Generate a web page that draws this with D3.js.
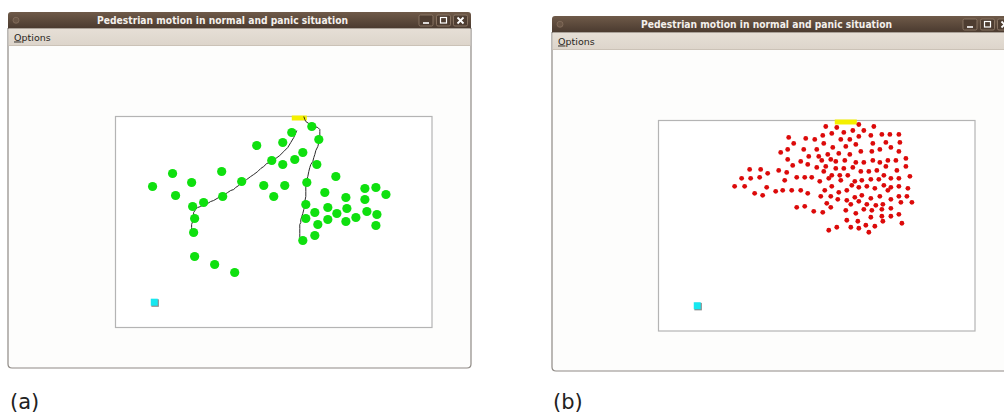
<!DOCTYPE html>
<html>
<head>
<meta charset="utf-8">
<script src="https://cdn.jsdelivr.net/npm/d3@7"></script>
<style>
html,body{margin:0;padding:0;background:#fff;}
svg{display:block;}
</style>
</head>
<body>
<svg id="chart" width="1004" height="417"></svg>
<script>
// ---- DATA (room coordinates, room is 316 x 211 units) ----
const roomSize = [316, 211];
const windowTitle = "Pedestrian motion in normal and panic situation";
const menuLabel = "Options";
const panelLabels = ["(a)", "(b)"];

// panel (a): normal situation, pedestrians
const normalPedestrians = [
  [37,70],[57,57],[76,66],[60,79],[106,55],[126,65],[141,29],[148,69],[158,80],
  [167,26],[176,16],[187,36],[179,43],[167,48],[156,44],[169,69],[196,10],[203,23],
  [201,48],[220,60],[191,66],[209,76],[77,90],[88,86],[107,80],[79,102],[78,116],
  [79,140],[99,148],[119,156],[190,88],[190,102],[187,124],[199,119],[202,108],
  [199,96],[212,103],[212,91],[221,97],[230,81],[231,92],[230,105],[240,101],
  [249,72],[249,83],[251,95],[260,71],[270,78],[261,98],[260,109]
];
// panel (a): two traced trajectories
const trajectoryA = [
  [181,14],[178,21],[175,26],[172,31],[168,35],[164,39],[160,42],[158,43],[154,46],
  [151,47],[148,50],[145,52],[142,55],[138,58],[135,60],[131,63],[128,66],[125,67],
  [123,69],[120,71],[118,73],[115,74],[112,76],[109,78],[107,80],[103,81],[98,84],
  [95,85],[92,87],[88,88],[85,90],[82,91],[80,93],[78,96],[78,98],[77,101],[77,105],
  [76,108],[76,111],[76,114],[76,117]
];
const trajectoryB = [
  [188,0],[189,3],[190,5],[193,7],[195,8],[198,10],[202,11],[204,13],[204,15],
  [204,19],[204,23],[203,26],[202,30],[200,34],[199,38],[198,41],[197,45],[195,48],
  [194,51],[193,55],[192,60],[191,63],[191,66],[190,70],[190,75],[190,80],[189,85],
  [189,89],[188,93],[187,97],[186,100],[185,103],[185,106],[184,108],[184,112],
  [184,117],[184,121]
];
// panel (b): panic situation, pedestrians
const panicPedestrians = [
  [167,6],[178,7],[200,4],[215,6],
  [164,15],[173,13],[185,12],[194,10],[205,10],[212,15],[223,14],[231,14],[240,14],
  [130,17],[147,18],[156,19],[182,19],[191,19],[200,16],
  [135,23],[165,23],[174,27],[187,26],[197,24],[214,23],[227,22],[241,22],[145,29],[158,29],
  [122,32],[129,29],[169,34],[180,33],[191,34],[202,31],[213,31],[221,29],[232,27],[240,31],[150,36],[160,36],
  [129,39],[142,41],[149,44],[134,45],[163,40],[172,39],[177,41],[186,40],[197,42],[205,42],[214,40],[221,42],[229,40],[237,40],[247,38],
  [91,49],[102,49],[109,53],[120,50],[128,52],[167,46],[158,47],[177,48],[185,48],[194,47],[202,51],[210,51],[218,50],[227,46],[238,50],[247,46],[165,51],[173,55],[181,55],
  [83,58],[92,58],[101,57],[126,60],[138,57],[146,57],[153,57],[161,61],[170,58],[182,60],[189,55],[196,61],[203,60],[212,59],[220,59],[225,55],[232,58],[240,58],[251,56],
  [76,66],[86,66],[108,67],[117,71],[124,70],[133,70],[142,70],[149,73],[166,70],[173,66],[180,72],[188,70],[193,65],[200,67],[208,66],[216,68],[225,65],[232,67],[240,66],[249,68],[96,73],[104,75],
  [162,76],[172,76],[179,79],[188,80],[196,77],[203,75],[212,78],[221,76],[229,70],[240,76],[248,76],
  [192,84],[200,81],[208,84],[217,85],[224,84],[232,79],[242,82],[253,82],[168,83],
  [138,87],[146,86],[155,91],[164,92],[172,87],[187,90],[197,93],[205,89],[213,90],[223,89],[232,88],
  [188,100],[199,101],[212,97],[223,96],[232,96],[240,94],[243,103],[207,105],[216,106],[224,101],
  [170,110],[178,107],[192,107],[200,108],[210,112]
];
// exits (door on top wall) and target marker
const exitSpans = [[176,191],[176,198]];
const targetMarker = [39,186];

// ---- LAYOUT ----
const svg = d3.select("#chart");
const FONT = "'DejaVu Sans', Verdana, sans-serif";

const defs = svg.append("defs");
const grad = defs.append("linearGradient").attr("id","tbar").attr("x1",0).attr("y1",0).attr("x2",0).attr("y2",1);
grad.append("stop").attr("offset","0%").attr("stop-color","#6f5a49");
grad.append("stop").attr("offset","100%").attr("stop-color","#4a3a2f");
const mgrad = defs.append("linearGradient").attr("id","mbar").attr("x1",0).attr("y1",0).attr("x2",0).attr("y2",1);
mgrad.append("stop").attr("offset","0%").attr("stop-color","#e6dfd6");
mgrad.append("stop").attr("offset","100%").attr("stop-color","#ddd5cb");

const windows = [
  {x:8, y:12, w:463, bottom:368, label:panelLabels[0], labelX:10,
   box:{x0:115.5, y0:116.5, x1:432, y1:327.5}, kind:"normal"},
  {x:552, y:16, w:470, bottom:371, label:panelLabels[1], labelX:553,
   box:{x0:658.5, y0:120.5, x1:975, y1:331}, kind:"panic"}
];

windows.forEach((win, i) => {
  const g = svg.append("g");
  const tH = 16.5, mH = 17;
  // body
  const r = 4;
  const x0 = win.x, x1 = win.x + win.w, yb = win.bottom;
  g.append("path")
    .attr("d", `M${x0},${win.y+tH} L${x0},${yb-r} Q${x0},${yb} ${x0+r},${yb} L${x1-r},${yb} Q${x1},${yb} ${x1},${yb-r} L${x1},${win.y+tH} Z`)
    .attr("fill","#fdfdfc").attr("stroke","#8f8a85").attr("stroke-width",1.2);
  // title bar
  g.append("path")
    .attr("d", `M${x0},${win.y+tH} L${x0},${win.y+3} Q${x0},${win.y} ${x0+3},${win.y} L${x1-3},${win.y} Q${x1},${win.y} ${x1},${win.y+3} L${x1},${win.y+tH} Z`)
    .attr("fill","url(#tbar)");
  // left circle
  g.append("circle").attr("cx", x0+8).attr("cy", win.y+tH/2).attr("r",3)
    .attr("fill","#6a5646").attr("stroke","#87705e").attr("stroke-width",0.8);
  // title
  g.append("text").attr("x", x0+89).attr("y", win.y+tH/2+3.6)
    .attr("font-family",FONT).attr("font-weight","bold").attr("font-size",10)
    .attr("fill","#f4f0ec").attr("textLength",251).attr("lengthAdjust","spacingAndGlyphs")
    .text(windowTitle);
  // buttons
  const bx = [x0+411, x0+428.5, x0+445.5];
  bx.forEach((b, k) => {
    g.append("rect").attr("x", b).attr("y", win.y+3).attr("width",14).attr("height",11).attr("rx",1.5)
      .attr("fill","#4e3d31").attr("stroke","#8d7866").attr("stroke-width",0.9);
    const cx = b+7, cy = win.y+8.5;
    if (k===0) g.append("line").attr("x1",cx-3).attr("x2",cx+3).attr("y1",cy+2.5).attr("y2",cy+2.5).attr("stroke","#fff").attr("stroke-width",1.6);
    if (k===1) g.append("rect").attr("x",cx-3).attr("y",cy-3).attr("width",6).attr("height",5.5).attr("fill","none").attr("stroke","#fff").attr("stroke-width",1.2);
    if (k===2) {
      g.append("line").attr("x1",cx-3).attr("x2",cx+3).attr("y1",cy-3).attr("y2",cy+3).attr("stroke","#fff").attr("stroke-width",1.8);
      g.append("line").attr("x1",cx-3).attr("x2",cx+3).attr("y1",cy+3).attr("y2",cy-3).attr("stroke","#fff").attr("stroke-width",1.8);
    }
  });
  // menu bar
  g.append("rect").attr("x", x0+0.6).attr("y", win.y+tH).attr("width", win.w-1.2).attr("height", mH)
    .attr("fill","url(#mbar)");
  g.append("line").attr("x1",x0+0.6).attr("x2",x1-0.6).attr("y1",win.y+tH+mH).attr("y2",win.y+tH+mH)
    .attr("stroke","#cbc2b7").attr("stroke-width",1);
  const mt = g.append("text").attr("x", x0+6).attr("y", win.y+tH+12)
    .attr("font-family",FONT).attr("font-size",9.5).attr("fill","#2a2622");
  mt.append("tspan").attr("text-decoration","underline").text(menuLabel[0]);
  mt.append("tspan").text(menuLabel.slice(1));

  // plot area
  const box = win.box;
  const xs = d3.scaleLinear().domain([0, roomSize[0]]).range([box.x0, box.x1]);
  const ys = d3.scaleLinear().domain([0, roomSize[1]]).range([box.y0, box.y1]);
  g.append("rect").attr("x", box.x0).attr("y", box.y0).attr("width", box.x1-box.x0).attr("height", box.y1-box.y0)
    .attr("fill","#ffffff").attr("stroke","#b4b4b4").attr("stroke-width",1.2);

  // exit
  const ex = exitSpans[i];
  g.append("rect").attr("x", xs(ex[0])).attr("y", ys(0)-1).attr("width", xs(ex[1])-xs(ex[0])).attr("height", ys(4)-ys(0)+1)
    .attr("fill","#f4f000");

  // target marker
  const tm = targetMarker;
  g.append("rect").attr("x", xs(tm[0])-3.2).attr("y", ys(tm[1])-3.2).attr("width",7.5).attr("height",7.5)
    .attr("fill","#8a8a8a");
  g.append("rect").attr("x", xs(tm[0])-3.8).attr("y", ys(tm[1])-3.8).attr("width",7).attr("height",7)
    .attr("fill","#16e8f0");

  if (win.kind === "normal") {
    const line = d3.line().x(d => xs(d[0])).y(d => ys(d[1])).curve(d3.curveLinear);
    [trajectoryA, trajectoryB].forEach(t => {
      g.append("path").attr("d", line(t)).attr("fill","none").attr("stroke","#2b2b2b").attr("stroke-width",1);
    });
    g.selectAll("circle.ped").data(normalPedestrians).join("circle").attr("class","ped")
      .attr("cx", d => xs(d[0])).attr("cy", d => ys(d[1])).attr("r", 4.6)
      .attr("fill","#0fe00f");
  } else {
    g.selectAll("circle.ped").data(panicPedestrians).join("circle").attr("class","ped")
      .attr("cx", d => xs(d[0])).attr("cy", d => ys(d[1])).attr("r", 2.4)
      .attr("fill","#dc0a0a");
  }

  // panel label
  svg.append("text").attr("x", win.labelX).attr("y", 409)
    .attr("font-family",FONT).attr("font-size",21).attr("fill","#222")
    .text(win.label);
});
</script>
</body>
</html>
